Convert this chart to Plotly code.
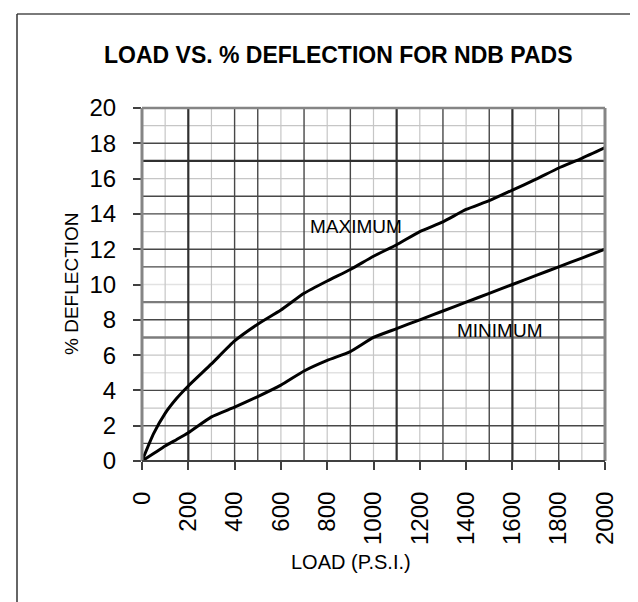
import plotly.graph_objects as go

# ---- data ----
load_psi = [0, 50, 100, 150, 200, 300, 400, 500, 600, 700, 800, 900, 1000,
            1100, 1200, 1300, 1400, 1500, 1600, 1700, 1800, 1900, 2000]
max_defl = [0, 1.55, 2.7, 3.55, 4.25, 5.5, 6.8, 7.75, 8.55, 9.5, 10.2, 10.85, 11.6,
            12.25, 13.0, 13.55, 14.25, 14.75, 15.35, 15.95, 16.6, 17.15, 17.75]
min_defl = [0, 0.42, 0.85, 1.22, 1.6, 2.5, 3.05, 3.65, 4.3, 5.1, 5.7, 6.2, 7.0,
            7.5, 8.0, 8.5, 9.0, 9.5, 10.0, 10.5, 11.0, 11.5, 12.0]

x_ticks = [0, 200, 400, 600, 800, 1000, 1200, 1400, 1600, 1800, 2000]
y_ticks = [0, 2, 4, 6, 8, 10, 12, 14, 16, 18, 20]

# grid line classes (as scanned in the reference)
x_grid_vals = [100, 200, 300, 400, 500, 600, 700, 800, 900, 1000,
               1100, 1200, 1300, 1400, 1500, 1600, 1700, 1800, 1900]
x_grid_kind = ['L', 'DD', 'L', 'D', 'D', 'L', 'D', 'L', 'D', 'L',
               'DD', 'L', 'D', 'L', 'D', 'DD', 'L', 'D', 'L']
y_grid_vals = list(range(1, 20))
y_grid_kind = ['D', 'D', 'L', 'D', 'VL', 'L', 'G', 'D', 'G', 'VL',
               'D', 'D', 'L', 'D', 'D', 'L', 'DD', 'D', 'L']

styles = {
    'VL': dict(color='#e2e2e2', width=1.5),
    'L': dict(color='#c6c6c6', width=1.2),
    'D': dict(color='#484848', width=1.4),
    'DD': dict(color='#303030', width=2.2),
    'G': dict(color='#7c7c7c', width=2.4),
}
order = ['VL', 'L', 'G', 'D', 'DD']

FONT = "Liberation Sans, Arial, sans-serif"

fig = go.Figure()

fig.add_trace(go.Scatter(x=load_psi, y=max_defl, mode='lines',
                         line=dict(color='black', width=3, shape='spline', smoothing=0.5),
                         hoverinfo='skip', showlegend=False))
fig.add_trace(go.Scatter(x=load_psi, y=min_defl, mode='lines',
                         line=dict(color='black', width=3, shape='spline', smoothing=0.5),
                         hoverinfo='skip', showlegend=False))

shapes = []
for k in order:
    for v, kind in zip(x_grid_vals, x_grid_kind):
        if kind == k:
            shapes.append(dict(type='line', xref='x', yref='y', x0=v, x1=v, y0=0, y1=20,
                               line=styles[k], layer='below'))
    for v, kind in zip(y_grid_vals, y_grid_kind):
        if kind == k:
            shapes.append(dict(type='line', xref='x', yref='y', x0=0, x1=2000, y0=v, y1=v,
                               line=styles[k], layer='below'))

# plot border
shapes.append(dict(type='line', xref='paper', yref='paper', x0=0, x1=1, y0=1, y1=1,
                   line=dict(color='#858585', width=2.5)))
shapes.append(dict(type='line', xref='paper', yref='paper', x0=0, x1=0, y0=0, y1=1,
                   line=dict(color='#858585', width=3)))
shapes.append(dict(type='line', xref='paper', yref='paper', x0=1, x1=1, y0=0, y1=1,
                   line=dict(color='#858585', width=3)))
shapes.append(dict(type='line', xref='paper', yref='paper', x0=0, x1=1, y0=0, y1=0,
                   line=dict(color='#404040', width=2)))

# outer frame (top and left edges visible)
L, T, W, H = 134, 100, 463, 353
def px_x(p):
    return (p - L) / W
def px_y(p):
    return (T + H - p) / H
shapes.append(dict(type='line', xref='paper', yref='paper', x0=px_x(9), x1=px_x(640),
                   y0=px_y(6), y1=px_y(6), line=dict(color='#7a7a7a', width=2)))
shapes.append(dict(type='line', xref='paper', yref='paper', x0=px_x(9), x1=px_x(9),
                   y0=px_y(6), y1=px_y(605), line=dict(color='#333333', width=1.5)))

annotations = [
    dict(text='<b>LOAD VS. % DEFLECTION FOR NDB PADS</b>', xref='paper', yref='paper',
         x=px_x(330), y=px_y(47), showarrow=False, xanchor='center', yanchor='middle',
         font=dict(family=FONT, size=23, color='black')),
    dict(text='% DEFLECTION', xref='paper', yref='paper', x=px_x(63), y=px_y(276),
         textangle=-90, showarrow=False, xanchor='center', yanchor='middle',
         font=dict(family=FONT, size=19, color='black')),
    dict(text='LOAD (P.S.I.)', xref='paper', yref='paper', x=px_x(343), y=px_y(554),
         showarrow=False, xanchor='center', yanchor='middle',
         font=dict(family=FONT, size=20, color='black')),
    dict(text='MAXIMUM', xref='x', yref='y', x=925, y=13.3, showarrow=False,
         xanchor='center', yanchor='middle', font=dict(family=FONT, size=19, color='black')),
    dict(text='MINIMUM', xref='x', yref='y', x=1546, y=7.37, showarrow=False,
         xanchor='center', yanchor='middle', font=dict(family=FONT, size=19, color='black')),
]

fig.update_layout(
    width=638, height=602,
    margin=dict(l=L, r=638 - L - W, t=T, b=602 - T - H, pad=0),
    paper_bgcolor='white', plot_bgcolor='white',
    shapes=shapes, annotations=annotations,
    font=dict(family=FONT, color='black'),
    xaxis=dict(range=[0, 2000], showgrid=False, zeroline=False, showline=False,
               tickmode='array', tickvals=x_ticks, ticktext=[str(v) for v in x_ticks],
               ticks='outside', ticklen=8, tickcolor='#404040', tickwidth=1.5,
               tickangle=-90, tickfont=dict(family=FONT, size=24, color='black'),
               ticklabelstandoff=12, fixedrange=True),
    yaxis=dict(range=[0, 20], showgrid=False, zeroline=False, showline=False,
               tickmode='array', tickvals=y_ticks, ticktext=[str(v) for v in y_ticks],
               ticks='outside', ticklen=8, tickcolor='#404040', tickwidth=1.5,
               tickfont=dict(family=FONT, size=24, color='black'),
               ticklabelstandoff=12, fixedrange=True),
)

fig.write_html("out.html")
